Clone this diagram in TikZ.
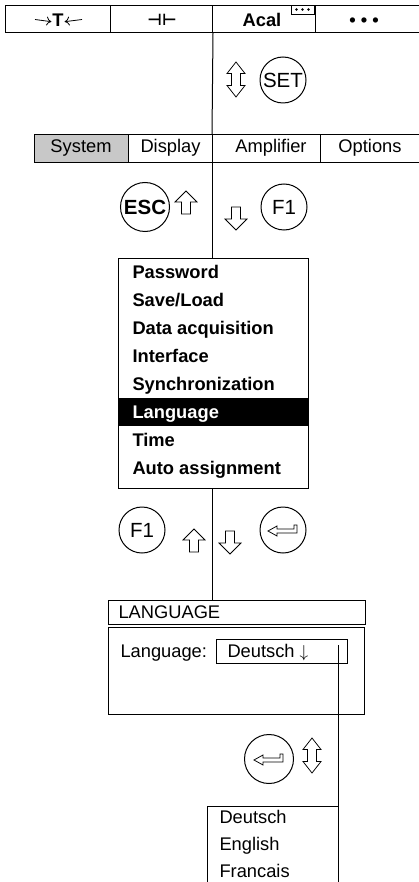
\documentclass[tikz,border=0pt]{standalone}
\usepackage{fontspec}
\usetikzlibrary{arrows.meta}
\setmainfont{Liberation Sans}
\newfontfamily\djv{DejaVu Sans}
\newcommand{\fsz}{\fontsize{18.3pt}{20pt}\selectfont}
\newcommand{\fszc}{\fontsize{20.5pt}{22pt}\selectfont}
\definecolor{tabgray}{RGB}{200,200,200}
\begin{document}
\begin{tikzpicture}[x=1pt,y=-1pt,line width=1pt,
  cell/.style={draw,rectangle,inner sep=0pt,anchor=north west},
  lbl/.style={inner sep=0pt,anchor=base,font=\fsz},
  item/.style={inner sep=0pt,anchor=base west,font=\fsz\bfseries},
  txt/.style={inner sep=0pt,anchor=base west,font=\fsz},
  key/.style={draw,circle,minimum size=46pt,inner sep=0pt,font=\fszc},
  conn/.style={line width=1pt},
  tarr/.style={line width=0.8pt,-{To[length=5pt,width=9pt,line width=0.8pt]}},
  uparr/.pic={\draw[line width=0.75pt] (0,-11.5) -- (11,-0.5) -- (4.5,-0.5) -- (4.5,11.5) -- (-4.5,11.5) -- (-4.5,-0.5) -- (-11,-0.5) -- cycle;},
  dnarr/.pic={\draw[line width=0.75pt] (0,11.5) -- (11,0.5) -- (4.5,0.5) -- (4.5,-11.5) -- (-4.5,-11.5) -- (-4.5,0.5) -- (-11,0.5) -- cycle;},
  dblarr/.pic={\draw[line width=0.75pt] (0,-17.5) -- (9,-6) -- (4.5,-6) -- (4.5,6) -- (9,6) -- (0,17.5) -- (-9,6) -- (-4.5,6) -- (-4.5,-6) -- (-9,-6) -- cycle;},
  enterarr/.pic={\draw[line width=0.75pt] (-15,1) -- (-6,-4) -- (-6,-1) -- (11,-1) -- (11,-5) -- (14,-5) -- (14,3) -- (-6,3) -- (-6,6) -- cycle;}
]
\useasboundingbox (0,0) rectangle (418,882);

% top bar
\node[cell,minimum width=105pt,minimum height=27pt] (c1) at (5,5) {};
\node[cell,minimum width=102pt,minimum height=27pt] (c2) at (110,5) {};
\node[cell,minimum width=103pt,minimum height=27pt] (c3) at (212,5) {};
\node[cell,minimum width=110pt,minimum height=27pt] (c4) at (315,5) {};
\node[lbl,font=\fsz\bfseries] (c1t) at (58,27) {T};
\coordinate (c1l) at (35,19.5);
\coordinate (c1r) at (82,19.5);
\draw[tarr] (c1l) -- ([xshift=-0.5pt,yshift=-1pt]c1t.west);
\draw[tarr] (c1r) -- ([xshift=0.5pt,yshift=-1pt]c1t.east);
\node[inner sep=0pt,anchor=base,font=\djv\bfseries\fontsize{16pt}{17pt}\selectfont] (c2t) at (162,25.5) {⊣⊢};
\node[lbl,font=\fsz\bfseries] (c3t) at (262,27) {Acal};
\node[cell,minimum width=23pt,minimum height=9pt] (dots) at (291,5) {};
\foreach \dx in {296.5,302.5,308.5} \fill (\dx,9.5) circle (1.4);
\node[lbl,font=\fsz\bfseries] (c4t) at (364,27) {• • •};

% SET key
\pic at (236,79.5) {dblarr};
\node[key] (set) at (283,80) {SET};

% tabs
\node[cell,fill=tabgray,minimum width=94pt,minimum height=28pt] (t1) at (34,134) {};
\node[cell,minimum width=84pt,minimum height=28pt] (t2) at (128,134) {};
\node[cell,minimum width=108pt,minimum height=28pt] (t3) at (212,134) {};
\node[cell,minimum width=110pt,minimum height=28pt] (t4) at (320,134) {};
\node[lbl] (t1t) at (81,153) {System};
\node[lbl] (t2t) at (170.5,153) {Display};
\node[lbl] (t3t) at (271,153) {Amplifier};
\node[lbl] (t4t) at (370,153) {Options};

% ESC / F1
\node[key,minimum size=49pt,font=\fszc\bfseries] (esc) at (145,207) {ESC};
\pic at (186,202.5) {uparr};
\pic at (236,218.5) {dnarr};
\node[key] (f1a) at (284,207) {F1};

% menu
\node[cell,minimum width=190pt,minimum height=230pt] (menu) at (118,258) {};
\fill (118,398) rectangle (309,426);
\node[item] (m1) at (132,278) {Password};
\node[item] (m2) at (132,306) {Save/Load};
\node[item] (m3) at (132,334) {Data acquisition};
\node[item] (m4) at (132,362) {Interface};
\node[item] (m5) at (132,390) {Synchronization};
\node[item,text=white] (m6) at (132,418) {Language};
\node[item] (m7) at (132,446) {Time};
\node[item] (m8) at (132,474) {Auto assignment};

% F1 / enter
\node[key] (f1b) at (142,530) {F1};
\pic at (194,540.5) {uparr};
\pic at (230,542.5) {dnarr};
\node[key] (ent1) at (283,530) {};
\pic at (ent1.center) {enterarr};

% LANGUAGE window
\node[cell,minimum width=257pt,minimum height=24pt] (lt) at (108,600) {};
\node[cell,minimum width=256pt,minimum height=87pt] (lb) at (108,627) {};
\node[txt] (ltt) at (118,618) {LANGUAGE};
\node[txt] (lbl1) at (120,657) {Language:};
\node[cell,minimum width=131pt,minimum height=24pt] (dd) at (216,639) {};
\node[txt] (ddt) at (227,657) {Deutsch $\downarrow$};

% enter 2
\node[key,minimum size=49pt] (ent2) at (269,759) {};
\pic at (ent2.center) {enterarr};
\pic at (312,755.5) {dblarr};

% list
\draw (207,885) -- (207,806) -- (338,806);
\node[txt] (l1) at (219,823) {Deutsch};
\node[txt] (l2) at (219,850) {English};
\node[txt] (l3) at (219,877) {Francais};

% connectors
\coordinate (ddpt) at (338,645);
\coordinate (bot) at (338,885);
\draw[conn] (c2.south east) -- (t3.north west);
\draw[conn] (t3.south west) -- (t3.south west |- menu.north);
\draw[conn] (menu.south -| t3.south west) -- (t3.south west |- lt.north);
\draw[conn] (ddpt) -- (bot);
\end{tikzpicture}
\end{document}
